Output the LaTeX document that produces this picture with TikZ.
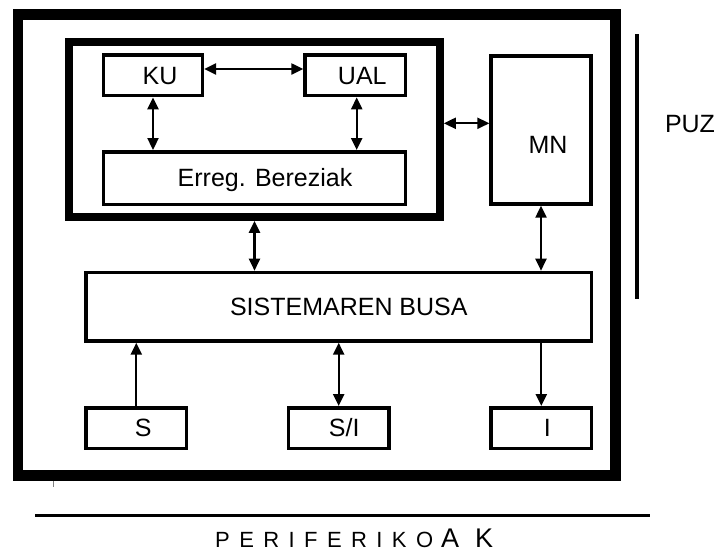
\documentclass[tikz,border=0pt]{standalone}
\usepackage{fontspec}
\setmainfont{Liberation Sans}
\usetikzlibrary{arrows.meta}
\tikzset{
  box/.style={draw, line width=3.5pt, rectangle, inner sep=0pt, text height=17.5pt, text depth=0pt,
    font=\fontsize{25}{29}\selectfont},
  thickbox/.style={draw, rectangle, inner sep=0pt},
  dbl/.style={line width=2.3pt, {Triangle[length=12pt,width=11pt]}-{Triangle[length=12pt,width=11pt]}},
  sgl/.style={line width=2.3pt, -{Triangle[length=12pt,width=11pt]}},
  lbl/.style={font=\fontsize{25}{29}\selectfont, inner sep=0pt},
}
\begin{document}
\begin{tikzpicture}[x=1pt,y=-1pt]
\useasboundingbox (0,0) rectangle (719,552);
% outer computer box
\node[thickbox, line width=10.7pt, minimum width=597.5pt, minimum height=460.8pt] (comp) at (316.75,245.1) {};
% CPU box
\node[thickbox, line width=7.7pt, minimum width=371pt, minimum height=175pt] (cpu) at (254.5,129.5) {};
% inner boxes
\node[box, minimum width=98.8pt, minimum height=40.6pt] (KU) at (153,75.3) {\hspace*{14pt}KU};
\node[box, minimum width=100.5pt, minimum height=40.6pt] (UAL) at (355.3,75.3) {\hspace*{14pt}UAL};
\node[box, minimum width=302pt, minimum height=52.5pt] (Erreg) at (254.5,178) {\hspace*{21pt}Erreg. Bereziak};
\node[box, minimum width=99.8pt, minimum height=147.9pt] (MN) at (541,130) {};
\node[lbl, text height=17.5pt, text depth=0pt] (MNt) at (548,145) {MN};
\node[box, minimum width=505.5pt, minimum height=68.5pt] (bus) at (338.8,306.7) {\hspace*{20pt}SISTEMAREN BUSA};
\node[box, minimum width=100.5pt, minimum height=40.5pt] (S) at (136.3,428) {\hspace*{14pt}S};
\node[box, minimum width=100.5pt, minimum height=40.5pt] (SI) at (338.7,428) {\hspace*{11pt}S/I};
\node[box, minimum width=100.5pt, minimum height=40.5pt] (I) at (541.3,428) {\hspace*{12pt}I};
% connectors
\draw[dbl] ([yshift=6.3pt]KU.east) -- ([yshift=6.3pt]UAL.west);
\draw[dbl] (KU.south) -- (KU.south |- Erreg.north);
\draw[dbl] ([xshift=1.4pt]UAL.south) -- ([xshift=1.4pt]UAL.south |- Erreg.north);
\draw[dbl] ([yshift=6.2pt]cpu.east) -- ([yshift=6.2pt]cpu.east -| MN.west);
\draw[dbl] (cpu.south -| Erreg.center) -- (bus.north -| Erreg.center);
\draw[dbl] (MN.south) -- (MN.south |- bus.north);
\draw[sgl] (S.north) -- (S.north |- bus.south);
\draw[dbl] (SI.north) -- (SI.north |- bus.south);
\draw[sgl] (I.north |- bus.south) -- (I.north);
% PUZ
\draw[line width=3.5pt] (637,34.3) -- (637,299);
\node[lbl, text height=17.5pt, text depth=0pt] (puz) at (690,123.5) {PUZ};
% periferikoak
\draw[line width=3pt] (35,515.7) -- (650,515.7);
\node[inner sep=0pt, anchor=base west] (peri) at (215,547)
  {\fontsize{22}{26}\selectfont\makebox[218pt][s]{P\hfil E\hfil R\hfil I\hfil F\hfil E\hfil R\hfil I\hfil K\hfil O}\hspace{8pt}{\fontsize{27}{31}\selectfont\makebox[52pt][s]{A\hfil K}}};
% small tick
\draw[gray, line width=1pt] (53,481) -- (53,487);
\end{tikzpicture}
\end{document}
